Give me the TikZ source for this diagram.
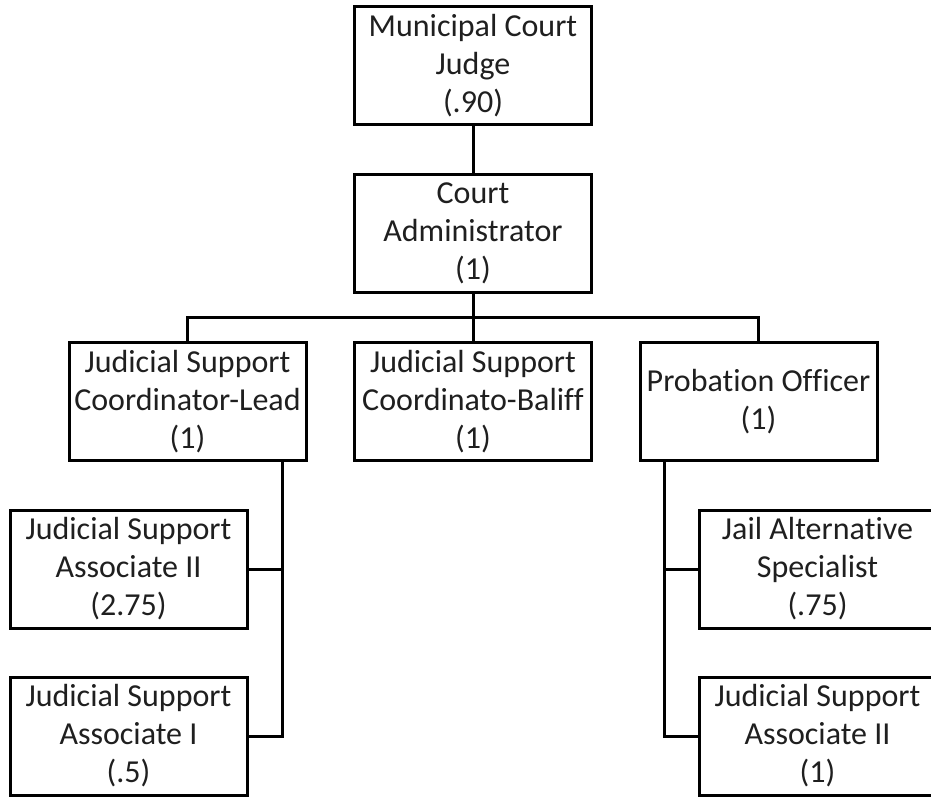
\documentclass[tikz,border=0pt]{standalone}
\usepackage{fontspec}
\setmainfont{Carlito}[Ligatures={NoCommon,NoRare,NoContextual}]
\newcommand{\nolig}{\kern0pt\relax}
\begin{document}
\begin{tikzpicture}[x=1pt,y=-1pt,
  box/.style={draw=black, line width=3pt, fill=white, inner sep=0pt,
    minimum width=237pt, minimum height=118pt, align=center,
    text=black!88, font=\fontsize{32}{38}\selectfont},
  conn/.style={draw=black, line width=3pt}]
\useasboundingbox (0,0) rectangle (931,797);
\fill[white] (0,0) rectangle (931,797);
\node[box] (judge) at (473,66) {Municipal Court\\Judge\\(.90)};
\node[box] (admin) at (473,233.5) {Court\\Administrator\\(1)};
\node[box] (lead) at (187.5,401.5) {Judicial Support\\Coordinator-Lead\\(1)};
\node[box] (baliff) at (473,401.5) {Judicial Support\\Coordinato-Balif\nolig f\\(1)};
\node[box] (prob) at (758.5,401.5) {Probation Of\nolig f\nolig icer\\(1)};
\node[box] (jsa2l) at (128.5,569) {Judicial Support\\Associate II\\(2.75)};
\node[box] (jsa1) at (128.5,736) {Judicial Support\\Associate I\\(.5)};
\node[box] (jail) at (817.5,569) {Jail Alterna\nolig t\nolig ive\\Specialist\\(.75)};
\node[box] (jsa2r) at (817.5,736) {Judicial Support\\Associate II\\(1)};
\coordinate (bus) at (473,317);
\coordinate (lv) at (282,0);
\coordinate (rv) at (664,0);
\draw[conn] (judge.south) -- (admin.north);
\draw[conn] (admin.south) -- (baliff.north);
\draw[conn] (lead.north) |- (bus) -| (prob.north);
\draw[conn] (lead.south -| lv) |- (jsa1.east);
\draw[conn] (jsa2l.east) -- (jsa2l.east -| lv);
\draw[conn] (prob.south -| rv) |- (jsa2r.west);
\draw[conn] (jail.west) -- (jail.west -| rv);
\end{tikzpicture}
\end{document}
